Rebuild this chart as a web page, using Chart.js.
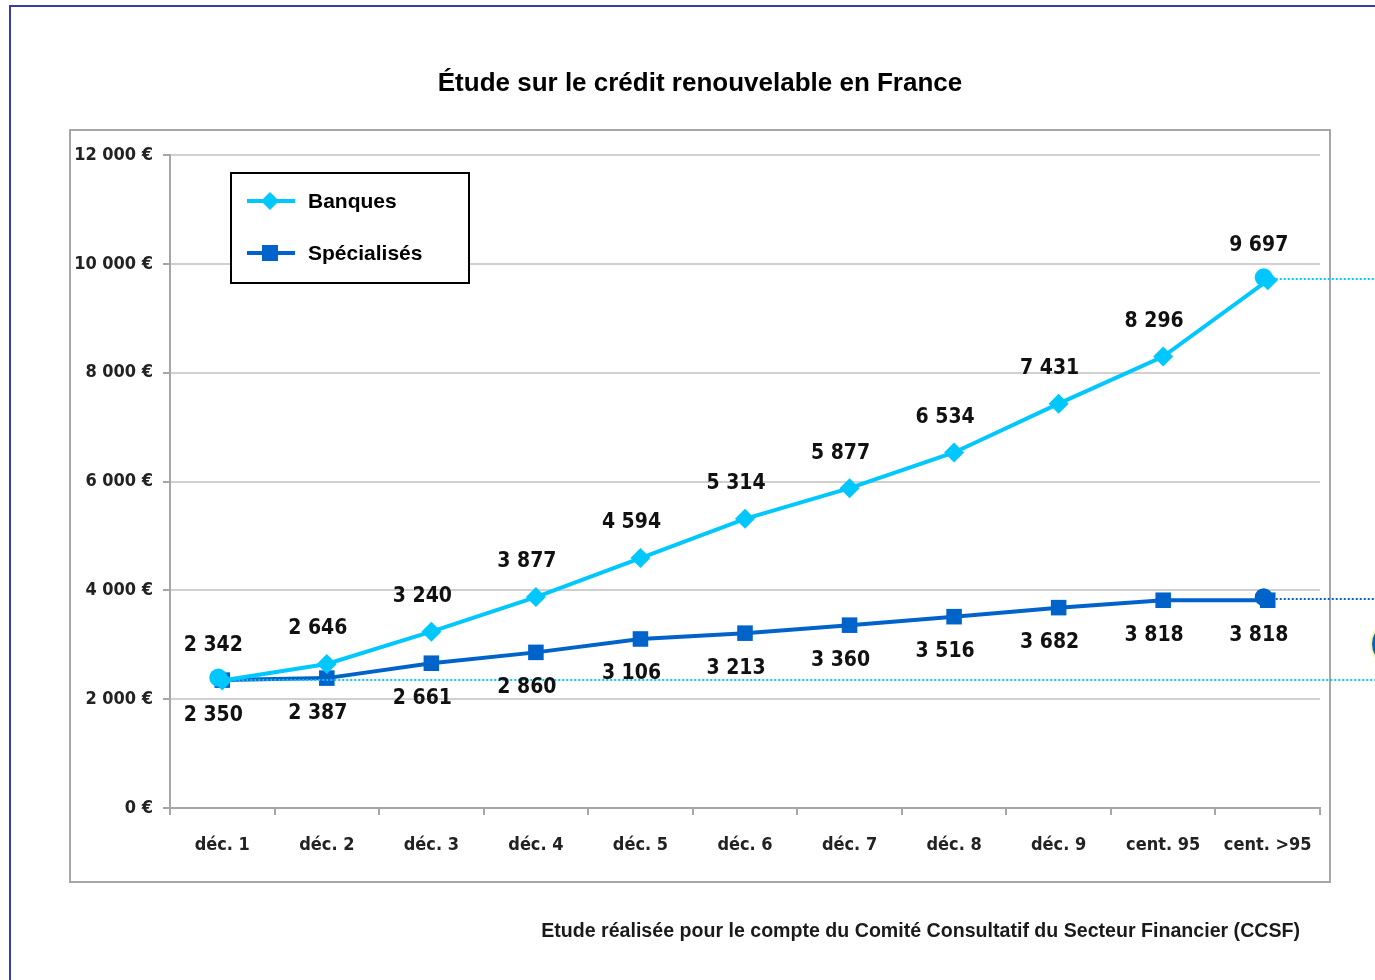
<!DOCTYPE html>
<html><head><meta charset="utf-8">
<script src="https://cdn.jsdelivr.net/npm/chart.js@4/dist/chart.umd.min.js"></script>
<style>html,body{margin:0;padding:0;background:#fff;overflow:hidden}canvas{display:block}</style>
</head><body>
<canvas id="c" width="1375" height="980"></canvas>
<script>
const categories = ['déc. 1','déc. 2','déc. 3','déc. 4','déc. 5','déc. 6','déc. 7','déc. 8','déc. 9','cent. 95','cent. >95'];
const banques = [2342, 2646, 3240, 3877, 4594, 5314, 5877, 6534, 7431, 8296, 9697];
const specialises = [2350, 2387, 2661, 2860, 3106, 3213, 3360, 3516, 3682, 3818, 3818];
const seriesNames = ['Banques', 'Spécialisés'];
const yTicks = [0, 2000, 4000, 6000, 8000, 10000, 12000];
const titleText = 'Étude sur le crédit renouvelable en France';
const captionText = 'Etude réalisée pour le compte du Comité Consultatif du Secteur Financier (CCSF)';

const C_LIGHT = '#00c8ff';
const C_DARK = '#0063c9';
const AXIS_FONT = '"DejaVu Sans Condensed", "DejaVu Sans", sans-serif';
const ARIAL = '"Liberation Sans", Arial, sans-serif';

function fmt(v){ return String(v).replace(/\B(?=(\d{3})+(?!\d))/g, ' '); }

const deco = {
  id: 'deco',
  beforeDraw(chart){
    const ctx = chart.ctx;
    ctx.save();
    ctx.fillStyle = '#fff';
    ctx.fillRect(0,0,chart.width,chart.height);
    ctx.strokeStyle = '#3b3ba8';
    ctx.lineWidth = 2;
    ctx.beginPath();
    ctx.moveTo(10, 980); ctx.lineTo(10, 6); ctx.lineTo(1375, 6);
    ctx.stroke();
    ctx.strokeStyle = '#a6a6a6';
    ctx.lineWidth = 2;
    ctx.strokeRect(70, 130, 1260, 752);
    ctx.fillStyle = '#000';
    ctx.font = 'bold 26px ' + ARIAL;
    ctx.textAlign = 'center';
    ctx.textBaseline = 'middle';
    ctx.fillText(titleText, 700, 84);
    ctx.font = 'bold 19.6px ' + ARIAL;
    ctx.fillStyle = '#1a1a1a';
    ctx.textAlign = 'right';
    ctx.fillText(captionText, 1300, 932);
    ctx.restore();
  },
  afterDatasetsDraw(chart){
    const ctx = chart.ctx;
    const m0 = chart.getDatasetMeta(0).data;
    const m1 = chart.getDatasetMeta(1).data;
    ctx.save();
    ctx.lineWidth = 2;
    ctx.setLineDash([2,2]);
    const guides = [[m0[0], C_LIGHT], [m0[m0.length-1], C_LIGHT], [m1[m1.length-1], C_DARK]];
    guides.forEach(([p,col])=>{
      ctx.strokeStyle = col;
      ctx.beginPath();
      ctx.moveTo(p.x, Math.round(p.y)-1);
      ctx.lineTo(chart.width, Math.round(p.y)-1);
      ctx.stroke();
    });
    ctx.setLineDash([]);
    guides.forEach(([p,col])=>{
      ctx.fillStyle = col;
      ctx.beginPath();
      ctx.arc(p.x-4, p.y-3, 9, 0, Math.PI*2);
      ctx.fill();
    });
    ctx.fillStyle = '#0063c9';
    ctx.strokeStyle = '#fff59a';
    ctx.lineWidth = 2;
    ctx.beginPath();
    ctx.arc(1393, 644, 22, 0, Math.PI*2);
    ctx.fill(); ctx.stroke();

    ctx.fillStyle = '#111';
    ctx.font = 'bold 21px ' + AXIS_FONT;
    ctx.textAlign = 'center';
    ctx.textBaseline = 'middle';
    m0.forEach((p,i)=>{ ctx.fillText(fmt(banques[i]), p.x-9, p.y-35); });
    m1.forEach((p,i)=>{ ctx.fillText(fmt(specialises[i]), p.x-9, p.y+35); });

    ctx.strokeStyle = '#000';
    ctx.lineWidth = 2;
    ctx.fillStyle = '#fff';
    ctx.fillRect(231,173,238,110);
    ctx.strokeRect(231,173,238,110);
    const items = [[seriesNames[0], C_LIGHT, 'rectRot', 201],[seriesNames[1], C_DARK, 'rect', 253]];
    items.forEach(([name,col,style,y])=>{
      ctx.strokeStyle = col; ctx.lineWidth = 4;
      ctx.beginPath(); ctx.moveTo(247,y); ctx.lineTo(295,y); ctx.stroke();
      ctx.fillStyle = col;
      ctx.beginPath();
      if (style === 'rectRot'){ ctx.moveTo(270,y-9); ctx.lineTo(279,y); ctx.lineTo(270,y+9); ctx.lineTo(261,y); ctx.closePath(); }
      else { ctx.rect(262,y-8,16,16); }
      ctx.fill();
      ctx.fillStyle = '#000';
      ctx.font = 'bold 21px ' + ARIAL;
      ctx.textAlign = 'left';
      ctx.fillText(name, 308, y+1);
    });
    ctx.restore();
  }
};

new Chart(document.getElementById('c'), {
  type: 'line',
  data: {
    labels: categories,
    datasets: [
      { label: seriesNames[0], data: banques, borderColor: C_LIGHT, backgroundColor: C_LIGHT,
        borderWidth: 4, pointStyle: 'rectRot', pointRadius: 10, pointBorderWidth: 0, tension: 0 },
      { label: seriesNames[1], data: specialises, borderColor: C_DARK, backgroundColor: C_DARK,
        borderWidth: 4, pointStyle: 'rect', pointRadius: 11, pointBorderWidth: 0, tension: 0 }
    ]
  },
  options: {
    responsive: false,
    devicePixelRatio: 1,
    animation: false,
    layout: { padding: { left: 70, right: 55, top: 155, bottom: 112 } },
    plugins: { legend: { display: false }, title: { display: false }, tooltip: { enabled: false } },
    scales: {
      x: {
        offset: true,
        grid: { offset: true, drawOnChartArea: false, color: '#a6a6a6', lineWidth: 2, tickLength: 7 },
        border: { color: '#a6a6a6', width: 2 },
        ticks: { color: '#222', font: { family: AXIS_FONT, size: 18, weight: 'bold' }, padding: 20, maxRotation: 0, autoSkip: false },
        afterFit(s){ s.height = 60; }
      },
      y: {
        min: 0, max: 12000,
        afterBuildTicks(s){ s.ticks = yTicks.map(v=>({value:v})); },
        grid: { color: '#d0d0d0', lineWidth: 2, tickLength: 7, tickColor: '#a6a6a6' },
        border: { color: '#a6a6a6', width: 2 },
        ticks: { color: '#222', font: { family: AXIS_FONT, size: 18, weight: 'bold' }, padding: 10,
          callback: v => fmt(v) + ' €' },
        afterFit(s){ s.width = 100; }
      }
    }
  },
  plugins: [deco]
});
</script>
</body></html>
